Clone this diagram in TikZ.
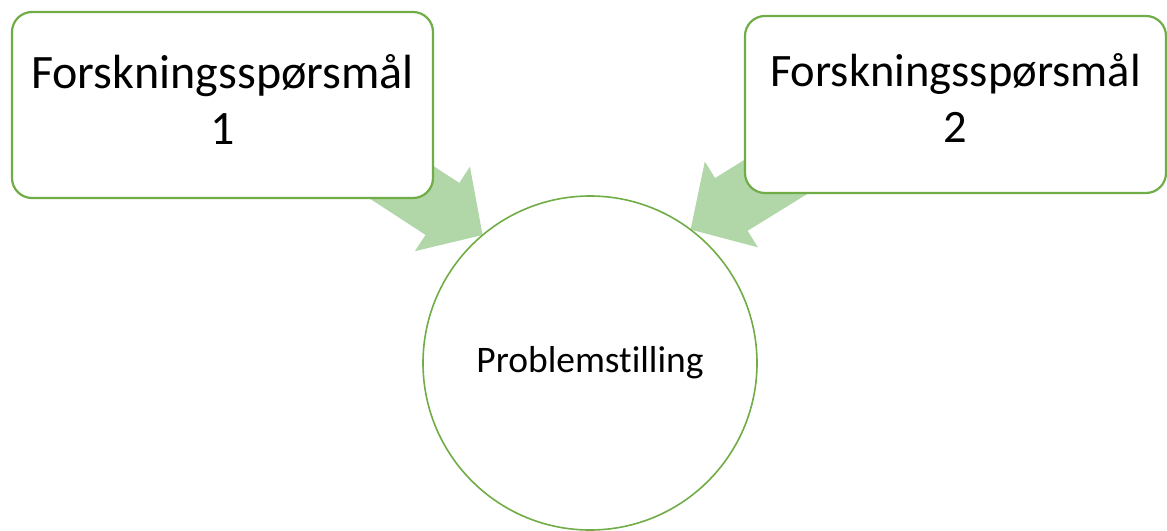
\documentclass[tikz,border=0pt]{standalone}
\usepackage{fontspec}
\setmainfont{Carlito}[Ligatures=NoCommon]
\usetikzlibrary{arrows.meta,backgrounds}
\definecolor{boxgreen}{RGB}{112,173,71}
\definecolor{arrowfill}{RGB}{177,214,168}
\tikzset{
  qbox/.style={draw=boxgreen, line width=2.2pt, fill=white, rounded corners=20pt,
    minimum width=421pt, align=center, inner sep=0pt, outer sep=0pt},
  pcircle/.style={circle, draw=boxgreen, line width=1.6pt, fill=white,
    minimum size=334pt, inner sep=0pt, outer sep=0pt,
    font=\fontsize{37.5}{44}\selectfont},
  blockarrow/.style={line width=62pt, draw=arrowfill, fill=arrowfill,
    -{Triangle[length=48pt,width=98pt]}}
}
\newcommand{\lowpad}{\rule[-12pt]{0pt}{12pt}}
\begin{document}
\begin{tikzpicture}[x=1pt,y=-1pt]
\useasboundingbox (0,0) rectangle (1167,530);
\node[qbox, minimum height=186pt, font=\fontsize{48}{56}\selectfont] (q1) at (222.5,105)
  {Forskningsspørsmål\\1\lowpad};
\node[qbox, minimum height=177pt, font=\fontsize{46.5}{56}\selectfont] (q2) at (955.5,104.5)
  {Forskningsspørsmål\\2\lowpad};
\node[pcircle] (p) at (590,363) {Problemstilling};
\coordinate (s1) at (355,152);
\coordinate (s2) at (821,149);
\begin{scope}[on background layer]
\draw[blockarrow] (s1) -- (p.130);
\draw[blockarrow] (s2) -- (p.53);
\end{scope}
\end{tikzpicture}
\end{document}
